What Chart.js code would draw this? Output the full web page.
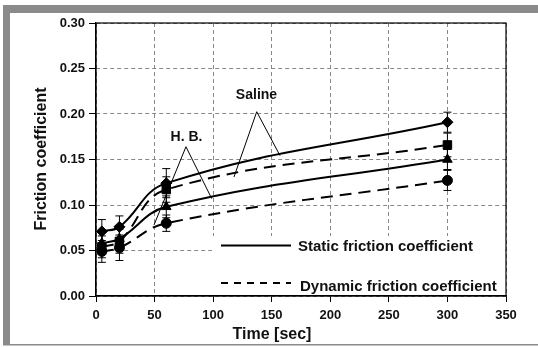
<!DOCTYPE html>
<html>
<head>
<meta charset="utf-8">
<script src="https://cdn.jsdelivr.net/npm/chart.js@4.4.1/dist/chart.umd.min.js"></script>
<style>
html,body{margin:0;padding:0;background:#fff;}
#wrap{position:relative;width:538px;height:347px;}
</style>
</head>
<body>
<div id="wrap"><canvas id="c" width="538" height="347"></canvas></div>
<script>
// ---- data ----
const times = [5, 20, 60, 300];
const salineStatic  = [0.071, 0.076, 0.124, 0.191];
const salineDynamic = [0.054, 0.060, 0.117, 0.166];
const hbStatic      = [0.058, 0.063, 0.098, 0.150];
const hbDynamic     = [0.049, 0.053, 0.080, 0.127];
const salineStaticErr  = [0.013, 0.012, 0.016, 0.011];
const salineDynamicErr = [0.012, 0.013, 0.014, 0.013];
const hbStaticErr      = [0.012, 0.012, 0.012, 0.011];
const hbDynamicErr     = [0.012, 0.014, 0.009, 0.011];
const xTicks = [0, 50, 100, 150, 200, 250, 300, 350];
const yTicks = [0.00, 0.05, 0.10, 0.15, 0.20, 0.25, 0.30];
const legendLabels = ["Static friction coefficient", "Dynamic friction coefficient"];
const yTitle = "Friction coefficient";
const xTitle = "Time [sec]";
// annotation labels with their pointer lines (in data units)
const salineLabel = {text: "Saline", at: [137, 0.221], apex: [137.2, 0.2025], ends: [[117.8, 0.1308], [157.1, 0.1542]]};
const hbLabel     = {text: "H. B.",  at: [77.3, 0.1744], apex: [76.8, 0.164], ends: [[49.5, 0.078], [98.8, 0.107]]};

const FONT = "'Liberation Sans', Arial, sans-serif";
const pts = arr => times.map((t, i) => ({x: t, y: arr[i]}));

function ds(label, arr, err, style, dashed, radius) {
  return {
    label, data: pts(arr), err,
    showLine: true, tension: 0.4,
    borderColor: '#000', backgroundColor: '#000',
    borderWidth: 2, borderDash: dashed ? [12, 7] : [],
    pointStyle: style, pointRadius: radius, pointHoverRadius: radius,
    pointBackgroundColor: '#000', pointBorderColor: '#000', pointBorderWidth: 1
  };
}

const framePlugin = {
  id: 'frame',
  beforeDraw(chart) {
    const ctx = chart.ctx;
    ctx.save();
    ctx.fillStyle = '#fff';
    ctx.fillRect(0, 0, chart.width, chart.height);
    ctx.fillStyle = '#8a8a8a';
    ctx.fillRect(3, 5, chart.width - 3, 8);   // top band
    ctx.fillRect(3, 5, 7, 340);               // left band
    ctx.fillRect(3, 344, chart.width - 3, 1.5); // bottom line
    ctx.restore();
  },
  beforeDatasetsDraw(chart) {
    const ctx = chart.ctx, a = chart.chartArea;
    const xs = chart.scales.x, ys = chart.scales.y;
    ctx.save();
    // legend box
    ctx.fillStyle = '#fff';
    ctx.fillRect(212, 236, a.right - 212 - 1, a.bottom - 236 - 1);
    ctx.strokeStyle = '#000';
    ctx.lineWidth = 2;
    ctx.beginPath(); ctx.moveTo(221, 245.5); ctx.lineTo(291, 245.5); ctx.stroke();
    ctx.setLineDash([7, 6]);
    ctx.beginPath(); ctx.moveTo(221, 283); ctx.lineTo(291, 283); ctx.stroke();
    ctx.setLineDash([]);
    ctx.fillStyle = '#111';
    ctx.font = "bold 15px " + FONT;
    ctx.textBaseline = 'middle';
    ctx.textAlign = 'left';
    ctx.fillText(legendLabels[0], 298, 247);
    ctx.fillText(legendLabels[1], 300, 287);
    // error bars
    ctx.lineWidth = 1;
    chart.data.datasets.forEach(d => {
      d.data.forEach((p, i) => {
        const x = xs.getPixelForValue(p.x);
        const y1 = ys.getPixelForValue(p.y + d.err[i]);
        const y2 = ys.getPixelForValue(p.y - d.err[i]);
        ctx.beginPath();
        ctx.moveTo(x, y1); ctx.lineTo(x, y2);
        ctx.moveTo(x - 4, y1); ctx.lineTo(x + 4, y1);
        ctx.moveTo(x - 4, y2); ctx.lineTo(x + 4, y2);
        ctx.stroke();
      });
    });
    // annotation labels
    [salineLabel, hbLabel].forEach(L => {
      const ax = xs.getPixelForValue(L.apex[0]), ay = ys.getPixelForValue(L.apex[1]);
      ctx.beginPath();
      L.ends.forEach(e => {
        ctx.moveTo(ax, ay);
        ctx.lineTo(xs.getPixelForValue(e[0]), ys.getPixelForValue(e[1]));
      });
      ctx.stroke();
      ctx.font = "bold 14px " + FONT;
      ctx.textAlign = 'center';
      ctx.fillText(L.text, xs.getPixelForValue(L.at[0]), ys.getPixelForValue(L.at[1]));
    });
    ctx.restore();
  },
  afterDraw(chart) {
    const ctx = chart.ctx, a = chart.chartArea;
    ctx.save();
    ctx.strokeStyle = '#000';
    ctx.lineWidth = 1.2;
    ctx.strokeRect(a.left, a.top, a.right - a.left, a.bottom - a.top);
    // axis titles
    ctx.fillStyle = '#111';
    ctx.font = "bold 16px " + FONT;
    ctx.textAlign = 'center';
    ctx.textBaseline = 'middle';
    ctx.fillText(xTitle, 272, 335);
    ctx.translate(42, 159);
    ctx.rotate(-Math.PI / 2);
    ctx.fillText(yTitle, 0, 0);
    ctx.restore();
  }
};

new Chart(document.getElementById('c'), {
  type: 'scatter',
  data: {
    datasets: [
      ds('Saline static', salineStatic, salineStaticErr, 'rectRot', false, 5.5),
      ds('Saline dynamic', salineDynamic, salineDynamicErr, 'rect', true, 6),
      ds('H.B. static', hbStatic, hbStaticErr, 'triangle', false, 5.5),
      ds('H.B. dynamic', hbDynamic, hbDynamicErr, 'circle', true, 5)
    ]
  },
  options: {
    responsive: false,
    animation: false,
    devicePixelRatio: 1,
    layout: {padding: {left: 0, top: 23, right: 32, bottom: 0}},
    plugins: {legend: {display: false}, tooltip: {enabled: false}},
    scales: {
      x: {
        type: 'linear', min: 0, max: 350,
        afterBuildTicks: s => { s.ticks = xTicks.map(v => ({value: v})); },
        afterFit: s => { s.height = 51; },
        grid: {color: '#888', lineWidth: 1, tickLength: 6, tickColor: '#000', tickBorderDash: []},
        border: {color: '#000', width: 1.2, dash: [4, 3]},
        ticks: {color: '#111', font: {family: FONT, size: 13, weight: 'bold'}, padding: 6, maxRotation: 0,
                callback: v => String(v)}
      },
      y: {
        type: 'linear', min: 0, max: 0.30,
        afterBuildTicks: s => { s.ticks = yTicks.map(v => ({value: v})); },
        afterFit: s => { s.width = 96; },
        grid: {color: '#888', lineWidth: 1, tickLength: 7, tickColor: '#000', tickBorderDash: []},
        border: {color: '#000', width: 1.2, dash: [4, 3]},
        ticks: {color: '#111', font: {family: FONT, size: 13, weight: 'bold'}, padding: 4,
                callback: v => Number(v).toFixed(2)}
      }
    }
  },
  plugins: [framePlugin]
});
</script>
</body>
</html>
